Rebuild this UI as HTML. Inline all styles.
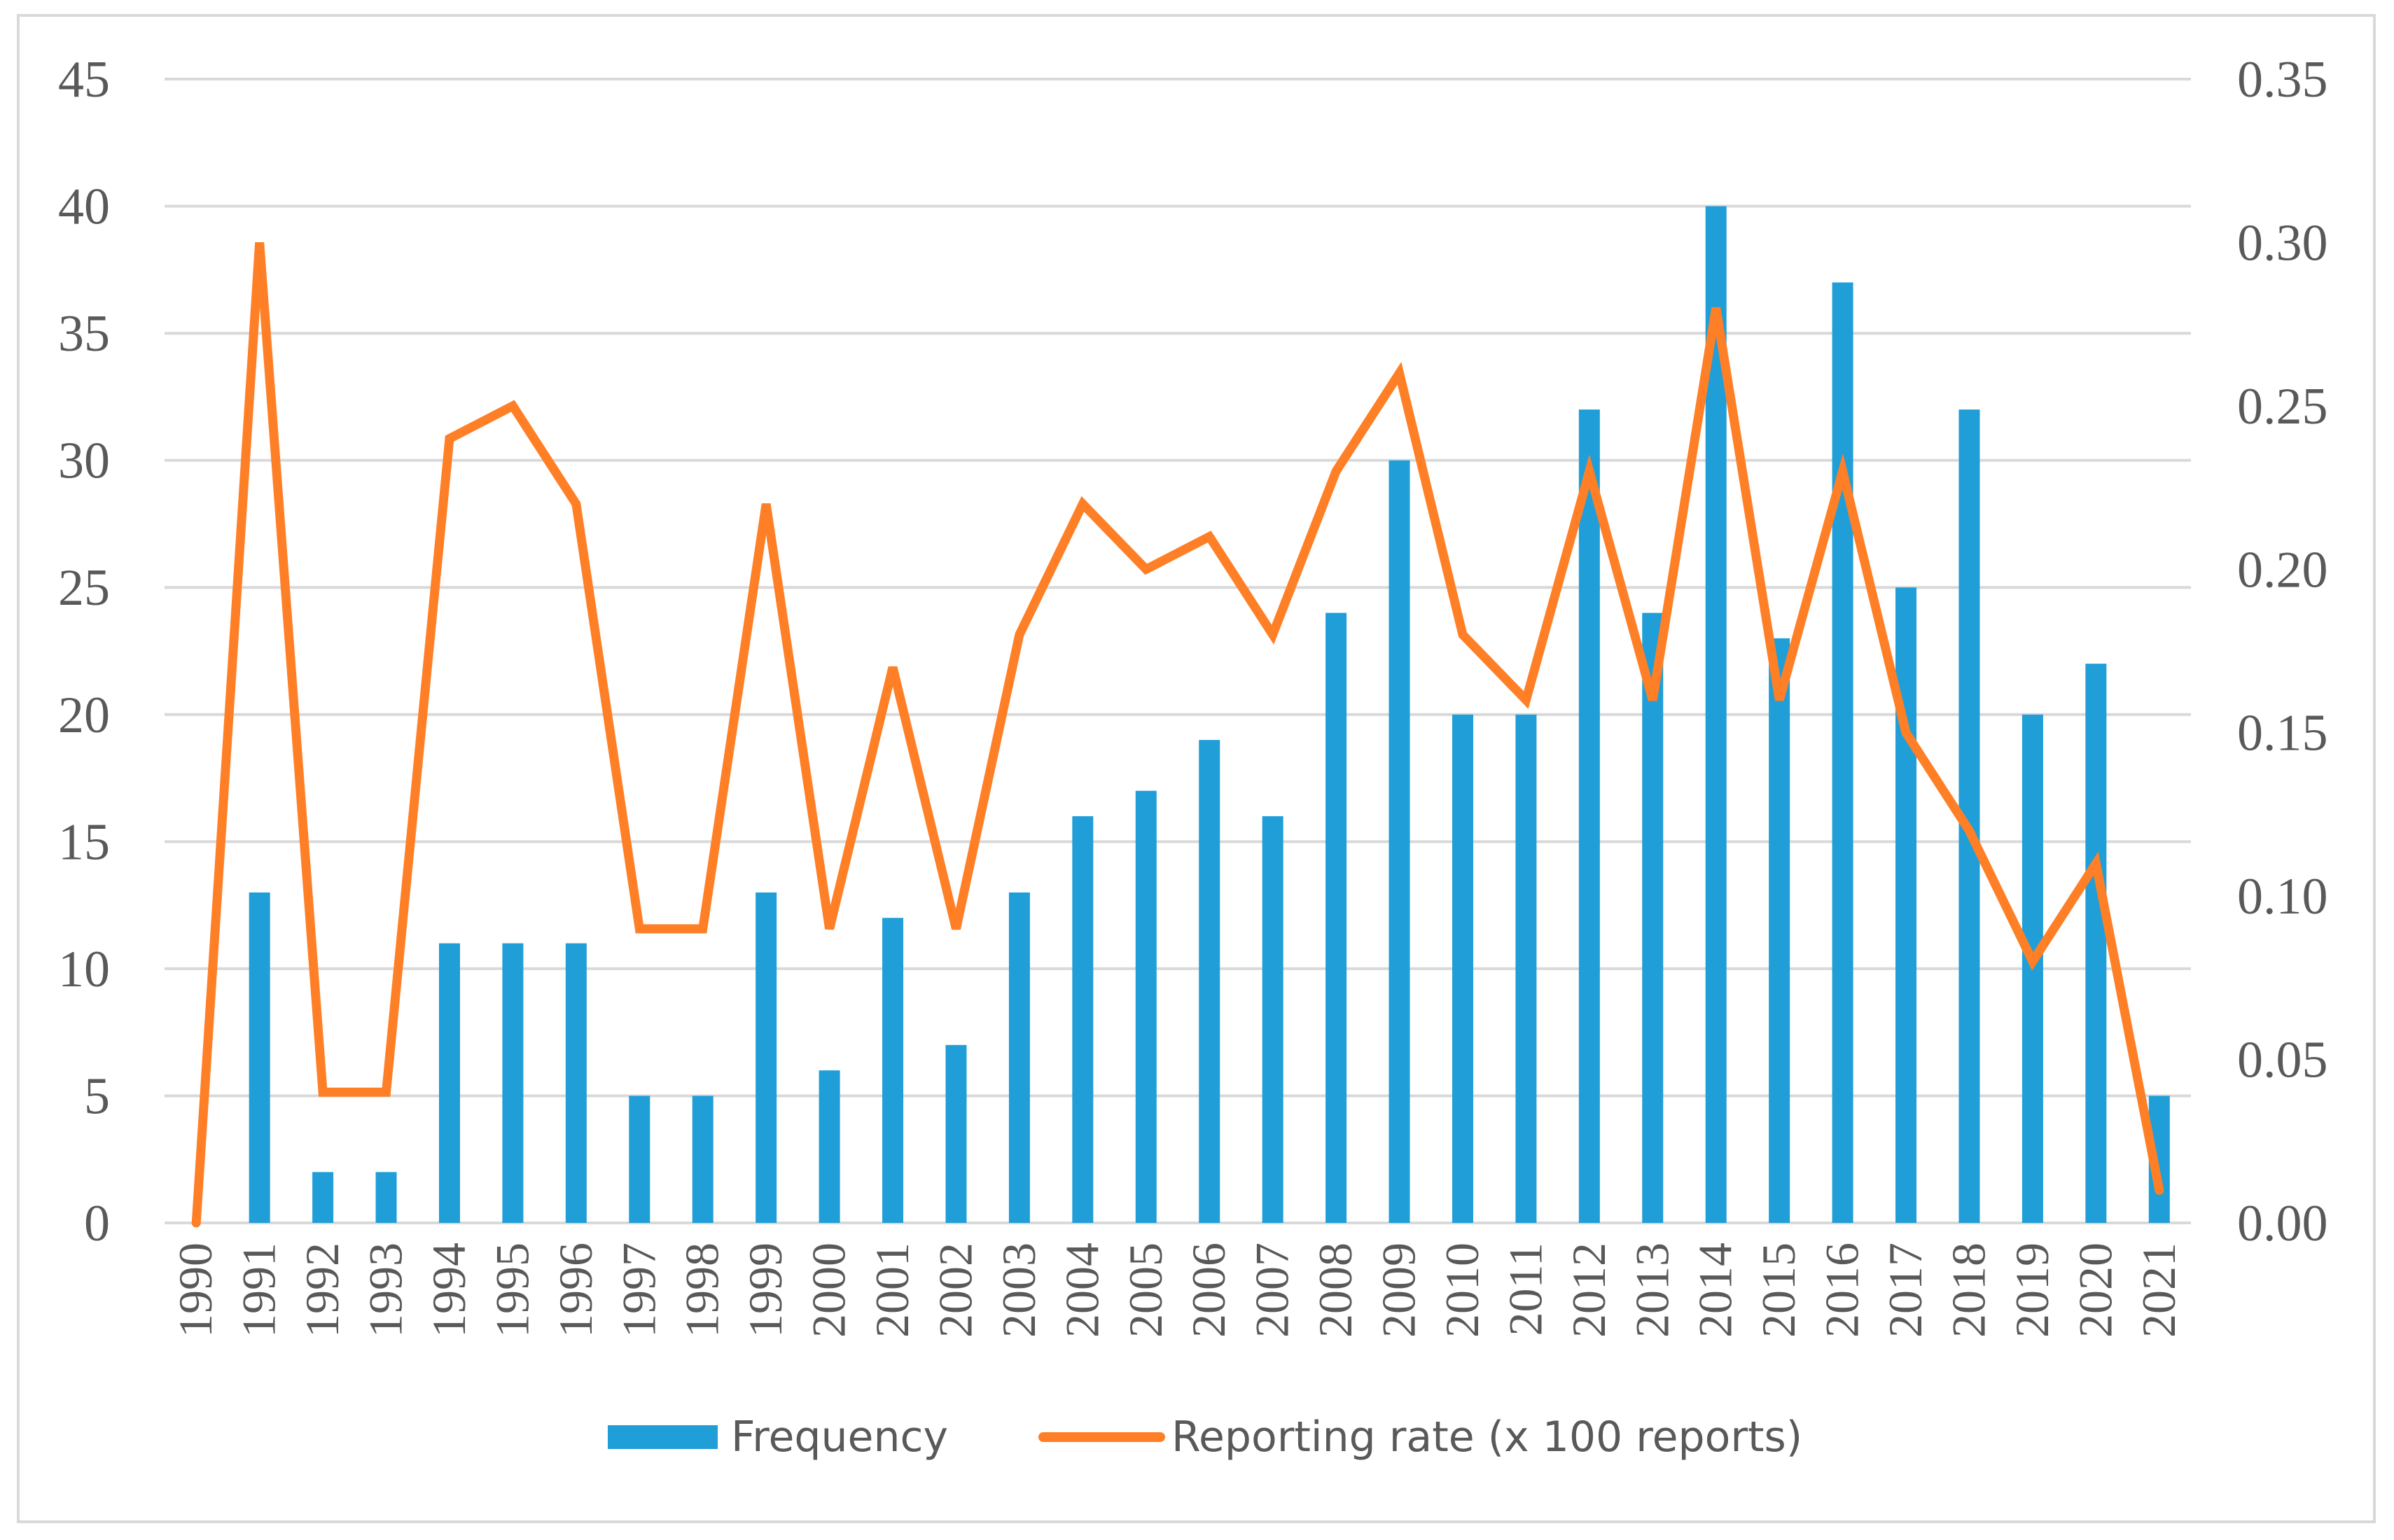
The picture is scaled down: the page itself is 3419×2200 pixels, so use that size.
<!DOCTYPE html>
<html><head><meta charset="utf-8"><style>
html,body{margin:0;padding:0;background:#fff;}
svg{display:block;}
</style></head><body>
<svg id="chart" width="3419" height="2200" viewBox="0 0 3419 2200" xmlns="http://www.w3.org/2000/svg">
<rect x="26" y="22" width="3365" height="2152" fill="#fff" stroke="#d9d9d9" stroke-width="4"/>
<g id="grid"></g><g id="bars"></g><g id="line"></g><g id="axes"></g>
<g>
<rect x="868" y="2036" width="157" height="34" fill="#1f9ed8"/>
<text x="1044" y="2073" font-family="DejaVu Sans, sans-serif" font-size="60" fill="#595959">Frequency</text>
<line x1="1490" y1="2053" x2="1657" y2="2053" stroke="#ff7f27" stroke-width="14" stroke-linecap="round"/>
<text x="1673" y="2073" font-family="DejaVu Sans, sans-serif" font-size="60" fill="#595959">Reporting rate (x 100 reports)</text>
</g>
</svg>
<script>
const years=[1990,1991,1992,1993,1994,1995,1996,1997,1998,1999,2000,2001,2002,2003,2004,2005,2006,2007,2008,2009,2010,2011,2012,2013,2014,2015,2016,2017,2018,2019,2020,2021];
const frequency=[0,13,2,2,11,11,11,5,5,13,6,12,7,13,16,17,19,16,24,30,20,20,32,24,40,23,37,25,32,20,22,5];
const rate=[0,0.30,0.04,0.04,0.24,0.25,0.22,0.09,0.09,0.22,0.09,0.17,0.09,0.18,0.22,0.20,0.21,0.18,0.23,0.26,0.18,0.16,0.23,0.16,0.28,0.16,0.23,0.15,0.12,0.08,0.11,0.01];
const leftTicks=[0,5,10,15,20,25,30,35,40,45];
const rightTicks=["0.00","0.05","0.10","0.15","0.20","0.25","0.30","0.35"];
const NS="http://www.w3.org/2000/svg";
const L=235,R=3129,T=113,B=1747;
const band=(R-L)/years.length;
const x=i=>L+band*(i+0.5);
const yL=v=>B-(v/45)*(B-T);
const yR=v=>B-(v/0.35)*(B-T);
function mk(tag,attrs,parent){const e=document.createElementNS(NS,tag);for(const k in attrs)e.setAttribute(k,attrs[k]);document.getElementById(parent).appendChild(e);return e;}
leftTicks.forEach(v=>{
 const g=mk('line',{x1:L,x2:R,y1:yL(v),y2:yL(v),stroke:'#d9d9d9','stroke-width':4},'grid');
 
 
 const t=mk('text',{x:157,y:yL(v)+25,'text-anchor':'end','font-family':'Liberation Serif, serif','font-size':74,fill:'#595959'},'axes');
 t.textContent=v;
 
 
});
rightTicks.forEach(v=>{
 const t=mk('text',{x:3195,y:yR(parseFloat(v))+25,'font-family':'Liberation Serif, serif','font-size':74,fill:'#595959'},'axes');
 t.textContent=v;
 
 
});
years.forEach((yr,i)=>{
 const b=mk('rect',{x:x(i)-15,y:yL(frequency[i]),width:30,height:B-yL(frequency[i]),fill:'#1f9ed8'},'bars');
 
 
 const t=mk('text',{transform:`translate(${x(i)+22},1775) rotate(-90)`,'text-anchor':'end','font-family':'Liberation Serif, serif','font-size':68,fill:'#595959'},'axes');
 t.textContent=yr;
 
 
});
const p=mk('polyline',{points:rate.map((v,i)=>x(i)+','+yR(v)).join(' '),fill:'none',stroke:'#ff7f27','stroke-width':13,'stroke-linejoin':'miter','stroke-linecap':'round'},'line');


</script>
</body></html>
